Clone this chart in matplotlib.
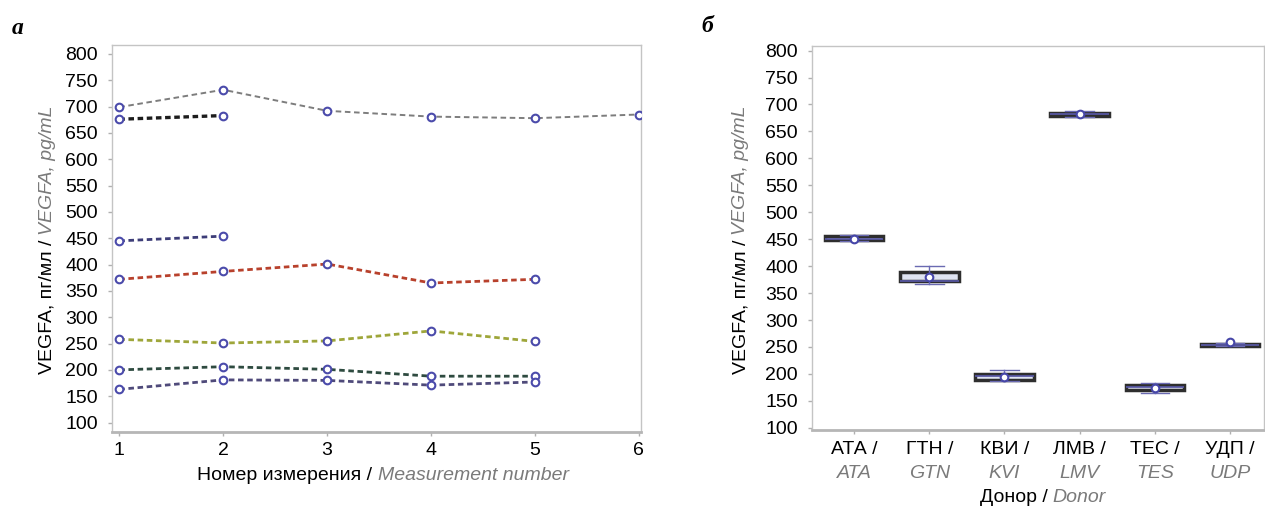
import matplotlib
matplotlib.use("Agg")
import matplotlib.pyplot as plt
from matplotlib import font_manager

# ---------------- data ----------------
measurement = [1, 2, 3, 4, 5, 6]

# VEGFA per measurement for each donor series (pg/mL)
series_grey = [699, 732, 692, 681, 678, 685]
series_black = [676, 683]
series_ata = [445, 454]
series_gtn = [372, 387, 401, 365, 372]
series_udp = [258, 251, 255, 274, 254]
series_kvi = [200, 206, 201, 188, 188]
series_tes = [163, 181, 180, 171, 177]

series_all = [series_grey, series_black, series_ata, series_gtn,
              series_udp, series_kvi, series_tes]
series_colors = ["#7d7d7d", "#1c1c1c", "#3d3d78", "#b8412c",
                 "#9ea63a", "#2e4b40", "#4f4a7a"]
series_widths = [1.4, 2.4, 2.0, 2.0, 2.0, 2.0, 2.0]

# Donor box summaries (pg/mL)
donors_ru = ["АТА /", "ГТН /", "КВИ /", "ЛМВ /", "ТЕС /", "УДП /"]
donors_en = ["ATA", "GTN", "KVI", "LMV", "TES", "UDP"]
box_q1 = [448, 373, 189, 679, 170, 252]
box_med = [451, 373, 197, 682, 175, 254]
box_q3 = [456, 389, 199, 685, 179, 256]
box_lo = [446, 366, 186, 677, 164, 251]
box_hi = [457, 401, 207, 687, 183, 257]
box_mean = [451, 380, 195, 682, 174, 260]

yticks = [100, 150, 200, 250, 300, 350, 400, 450, 500, 550, 600, 650, 700, 750, 800]

# ---------------- fonts ----------------
installed = {f.name for f in font_manager.fontManager.ttflist}
def pick(*names):
    for n in names:
        if n in installed:
            return n
    return "DejaVu Sans"

SANS = pick("Liberation Sans", "Open Sans", "DejaVu Sans")
SERIF = pick("Liberation Serif", "DejaVu Serif")
plt.rcParams["font.family"] = [SANS, "DejaVu Sans"]
plt.rcParams["lines.scale_dashes"] = False

FS = 14
GREY_TXT = "#7a7a7a"
SPINE = "#c4c4c4"

W, H = 1265, 508
fig = plt.figure(figsize=(W / 100, H / 100), dpi=100)
fig.patch.set_facecolor("white")

def frac_box(x0, y0, x1, y1):
    return [x0 / W, 1 - y1 / H, (x1 - x0) / W, (y1 - y0) / H]

ax1 = fig.add_axes(frac_box(111.7, 45, 641, 432))
ax2 = fig.add_axes(frac_box(812, 45.7, 1264, 430))

for ax in (ax1, ax2):
    for side in ("left", "right", "top"):
        ax.spines[side].set_color(SPINE)
        ax.spines[side].set_linewidth(1.0)
    ax.spines["bottom"].set_color("#b6b6b6")
    ax.spines["bottom"].set_linewidth(2.0)
    ax.set_yticks(yticks)
    ax.tick_params(axis="both", colors="#b0b0b0", length=3, width=1,
                   labelcolor="black", labelsize=FS)
    ax.tick_params(axis="y", pad=7)
    ax.tick_params(axis="x", pad=4)

# ---------------- panel a: measurements ----------------
for vals, col, lw in zip(series_all, series_colors, series_widths):
    xs = measurement[:len(vals)]
    ax1.plot(xs, vals, color=col, lw=lw, ls=(0, (4.0, 2.6)),
             marker="o", markersize=5.5, markerfacecolor="white",
             markeredgecolor="#4b4bab", markeredgewidth=1.5, zorder=3)

ax1.set_xlim(0.927, 6.02)
ax1.set_ylim(82, 817)
ax1.set_xticks(measurement)

# ---------------- panel b: donors ----------------
positions = list(range(1, len(donors_ru) + 1))
stats = []
for i in range(len(donors_ru)):
    stats.append(dict(med=box_med[i], q1=box_q1[i], q3=box_q3[i],
                      whislo=box_lo[i], whishi=box_hi[i], mean=box_mean[i],
                      fliers=[]))
ax2.bxp(stats, positions=positions, widths=0.78, patch_artist=True,
        showmeans=True, capwidths=0.38,
        boxprops=dict(facecolor="#dfe4f2", edgecolor="#2e2e2e", linewidth=2.5),
        medianprops=dict(color="#5a5aaa", linewidth=1.2),
        whiskerprops=dict(color="#6a6ab2", linewidth=1.0),
        capprops=dict(color="#6a6ab2", linewidth=1.0),
        meanprops=dict(marker="o", markerfacecolor="white",
                       markeredgecolor="#4646a8", markeredgewidth=1.5,
                       markersize=5.5))
ax2.set_xlim(0.441, 6.45)
ax2.set_ylim(96, 809)
ax2.set_xticks(positions)
ax2.set_xticklabels([""] * len(positions))

for p, ru, en in zip(positions, donors_ru, donors_en):
    xf = ax2.transData.transform((p, 0))[0] / W
    fig.text(xf, 1 - 450 / H, ru, ha="center", va="center", fontsize=FS)
    fig.text(xf, 1 - 473 / H, en, ha="center", va="center", fontsize=FS,
             style="italic", color=GREY_TXT)

# ---------------- two-tone axis titles ----------------
fig.canvas.draw()
renderer = fig.canvas.get_renderer()

def two_tone(cx, cy, first, second, rotation=0, gap=5):
    t1 = fig.text(0, 0, first, fontsize=FS, color="black", rotation=rotation,
                  ha="left", va="center", rotation_mode="anchor")
    t2 = fig.text(0, 0, second, fontsize=FS, color=GREY_TXT, style="italic",
                  rotation=rotation, ha="left", va="center",
                  rotation_mode="anchor")
    e1 = t1.get_window_extent(renderer)
    e2 = t2.get_window_extent(renderer)
    if rotation == 0:
        total = e1.width + gap + e2.width
        x0 = cx - total / 2
        t1.set_position((x0 / W, 1 - cy / H))
        t2.set_position(((x0 + e1.width + gap) / W, 1 - cy / H))
    else:
        total = e1.height + gap + e2.height
        y0 = cy + total / 2  # bottom in pixel-from-top coordinates
        t1.set_position((cx / W, 1 - y0 / H))
        t2.set_position((cx / W, 1 - (y0 - e1.height - gap) / H))

two_tone(383, 475, "Номер измерения /", "Measurement number")
two_tone(47, 240, "VEGFA, пг/мл /", "VEGFA, pg/mL", rotation=90)
two_tone(1043, 497, "Донор /", "Donor")
two_tone(741, 240, "VEGFA, пг/мл /", "VEGFA, pg/mL", rotation=90)

# panel letters
fig.text(12 / W, 1 - 28 / H, "a", fontsize=17, family=SERIF,
         style="italic", weight="bold", va="center", ha="left")
fig.text(701 / W, 1 - 27 / H, "б", fontsize=17, family=SERIF,
         style="italic", weight="bold", va="center", ha="left")

fig.savefig("out.png", dpi=100, facecolor="white")
